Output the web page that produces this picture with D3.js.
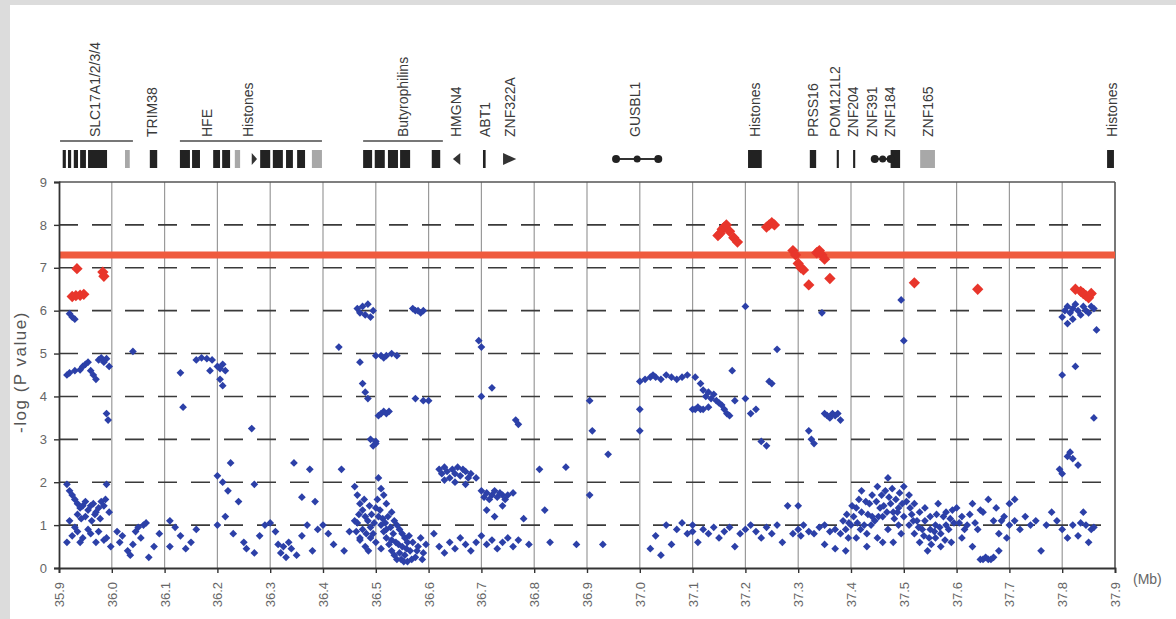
<!DOCTYPE html>
<html><head><meta charset="utf-8">
<script src="https://cdn.jsdelivr.net/npm/d3@7"></script>
<style>
body{margin:0;background:#fff;}
text{font-family:"Liberation Sans",Arial,sans-serif;}
</style></head>
<body><svg id="chart" width="1176" height="619"></svg>
<script>
// Axis ticks (position in Mb, -log10 P)
const xTicks = [35.9,36.0,36.1,36.2,36.3,36.4,36.5,36.6,36.7,36.8,36.9,37.0,37.1,37.2,37.3,37.4,37.5,37.6,37.7,37.8,37.9];
const yTicks = [0,1,2,3,4,5,6,7,8,9];
const threshold = 7.3;

// Gene annotation track
const geneNames = ["SLC17A1/2/3/4","TRIM38","HFE","Histones","Butyrophilins","HMGN4","ABT1","ZNF322A","GUSBL1","Histones","PRSS16","POM121L2","ZNF204","ZNF391","ZNF184","ZNF165","Histones"];
const genePos   = [35.968,36.076,36.180,36.258,36.551,36.652,36.707,36.754,36.991,37.218,37.328,37.370,37.404,37.440,37.474,37.546,37.894];
const geneBlocks = [
  [35.907,35.913],[35.917,35.923],[35.928,35.936],[35.940,35.951],[35.955,35.991],
  [36.072,36.086],[36.129,36.148],[36.152,36.167],[36.192,36.205],[36.209,36.224],
  [36.281,36.300],[36.305,36.324],[36.330,36.343],[36.351,36.366],
  [36.476,36.493],[36.498,36.517],[36.523,36.542],[36.546,36.565],[36.606,36.622],
  [36.703,36.708],[37.205,37.231],[37.322,37.334],[37.373,37.377],[37.404,37.408],
  [37.475,37.493],[37.885,37.898]
];
const faintBlocks = [[36.025,36.034],[36.233,36.243],[36.379,36.398],[37.531,37.559]];
const geneArrows = [[36.265,36.275,1],[36.646,36.660,-1],[36.741,36.766,1]];
const dumbbells = [[36.955,37.035],[37.445,37.475]];
const geneGroups = [[35.902,36.040],[36.129,36.398],[36.476,36.627]];

// Association results: [position (Mb), -log10 P]
const snps = [
  // 35.9 - 36.0
  [35.920,5.93],[35.925,5.85],[35.930,5.80],
  [35.915,4.50],[35.920,4.55],[35.930,4.60],[35.940,4.62],[35.945,4.70],[35.950,4.75],[35.955,4.80],[35.960,4.60],[35.965,4.50],[35.970,4.40],[35.975,4.85],[35.980,4.90],[35.985,4.80],[35.990,4.88],[35.995,4.70],[35.990,3.60],[35.993,3.45],
  [35.915,1.95],[35.920,1.80],[35.925,1.70],[35.930,1.60],[35.935,1.50],[35.940,1.40],[35.945,1.45],[35.950,1.55],[35.955,1.35],[35.960,1.45],[35.965,1.50],[35.970,1.30],[35.975,1.40],[35.980,1.55],[35.985,1.45],[35.990,1.95],[35.995,1.30],
  [35.920,1.10],[35.930,0.95],[35.925,0.75],[35.935,0.85],[35.945,0.70],[35.955,0.90],[35.960,0.80],[35.970,0.60],[35.975,0.85],[35.985,0.65],[35.990,0.70],[35.998,0.50],[35.915,0.60],
  [35.935,1.25],[35.942,1.15],[35.950,1.20],[35.962,1.10],[35.968,1.25],[35.978,1.15],[35.988,1.60],[35.940,0.60],
  // 36.0 - 36.1
  [36.040,5.05],[36.010,0.85],[36.015,0.60],[36.020,0.75],[36.030,0.40],[36.035,0.30],[36.040,0.55],[36.045,0.85],[36.050,0.95],[36.055,0.70],[36.060,1.00],[36.065,1.05],[36.070,0.25],[36.080,0.50],[36.090,0.80],
  // 36.1 - 36.2
  [36.130,4.55],[36.135,3.75],[36.160,4.85],[36.170,4.90],[36.180,4.88],[36.190,4.85],[36.186,4.60],
  [36.110,1.10],[36.120,0.95],[36.130,0.75],[36.140,0.45],[36.150,0.60],[36.110,0.50],[36.160,0.90],
  // 36.2 - 36.3
  [36.200,4.70],[36.205,4.65],[36.210,4.75],[36.215,4.60],[36.205,4.40],[36.210,4.25],
  [36.200,2.15],[36.210,2.00],[36.220,1.80],[36.225,2.45],[36.240,1.55],[36.265,3.25],[36.270,1.95],
  [36.200,1.00],[36.215,1.20],[36.230,0.80],[36.250,0.60],[36.255,0.45],[36.270,0.35],[36.280,0.75],[36.290,1.00],
  // 36.3 - 36.4
  [36.300,1.05],[36.310,0.85],[36.315,0.55],[36.320,0.35],[36.325,0.50],[36.330,0.25],[36.335,0.60],[36.340,0.45],[36.350,0.30],[36.360,0.75],[36.370,1.00],[36.345,2.45],[36.360,1.65],[36.375,2.30],[36.385,1.55],[36.390,0.90],[36.380,0.40],
  // 36.4 - 36.5
  [36.400,1.00],[36.410,0.80],[36.420,0.55],[36.430,5.15],[36.435,2.30],[36.440,0.40],[36.450,0.85],[36.460,1.10],[36.470,0.70],
  [36.465,6.05],[36.470,5.95],[36.475,6.10],[36.480,5.90],[36.485,6.15],[36.490,5.85],[36.495,6.00],[36.470,4.80],[36.475,4.30],[36.480,4.10],[36.485,3.95],[36.490,3.00],[36.495,2.85],[36.500,2.90],
  [36.460,1.90],[36.465,1.70],[36.470,1.50],[36.475,1.35],[36.480,1.20],[36.485,1.10],[36.490,0.95],[36.495,0.80],[36.470,0.65],[36.480,0.50],[36.490,0.70],[36.465,1.05],[36.475,0.90],
  [36.468,1.25],[36.478,1.60],[36.482,0.80],[36.488,1.45],[36.492,1.25],[36.497,1.05],[36.463,0.85],[36.486,0.40],
  // 36.5 - 36.6
  [36.500,4.95],[36.510,4.95],[36.515,4.90],[36.520,4.95],[36.530,5.00],[36.540,4.95],
  [36.505,3.55],[36.510,3.60],[36.515,3.65],[36.520,3.60],[36.525,3.65],
  [36.500,2.95],[36.505,2.10],[36.510,1.85],[36.515,1.70],[36.520,1.50],[36.530,1.30],[36.535,1.10],[36.540,1.00],[36.545,0.90],[36.550,0.80],[36.555,0.70],[36.560,0.60],
  [36.500,1.40],[36.505,1.20],[36.510,1.00],[36.515,0.85],[36.520,0.70],[36.525,0.55],[36.530,0.40],[36.535,0.30],[36.540,0.20],[36.545,0.35],[36.550,0.50],[36.555,0.30],[36.560,0.15],[36.565,0.40],[36.570,0.60],[36.575,0.25],[36.580,0.50],[36.585,0.70],[36.590,0.35],[36.595,0.55],[36.500,0.60],[36.510,0.45],[36.520,0.90],[36.530,0.65],
  [36.503,1.60],[36.508,1.35],[36.513,1.15],[36.518,1.05],[36.523,1.20],[36.528,0.95],[36.533,0.80],[36.538,0.60],[36.543,0.55],[36.548,0.20],[36.553,0.15],[36.558,0.45],[36.563,0.75],[36.568,0.20],[36.578,0.40],[36.588,0.20],
  [36.570,6.05],[36.575,6.00],[36.580,6.00],[36.585,5.95],[36.590,6.00],[36.575,3.95],[36.590,3.90],[36.600,3.90],
  // 36.6 - 36.7
  [36.620,0.50],[36.630,0.35],[36.640,0.60],[36.650,0.45],[36.660,0.70],[36.670,0.55],[36.680,0.40],[36.690,0.60],[36.610,0.80],
  [36.620,2.30],[36.625,2.20],[36.630,2.35],[36.635,2.25],[36.640,2.10],[36.645,2.30],[36.650,2.20],[36.655,2.35],[36.660,2.15],[36.665,2.30],[36.670,2.25],[36.675,2.10],[36.680,2.20],[36.630,2.05],[36.650,2.00],[36.670,1.95],[36.690,2.10],
  [36.695,5.30],[36.700,5.15],[36.700,4.00],[36.720,4.20],
  // 36.7 - 36.8
  [36.700,1.80],[36.705,1.65],[36.710,1.75],[36.715,1.60],[36.720,1.70],[36.725,1.80],[36.730,1.65],[36.735,1.75],[36.740,1.70],[36.745,1.60],[36.750,1.70],[36.760,1.75],[36.710,1.35],[36.725,1.20],[36.740,1.45],[36.765,3.45],[36.770,3.35],
  [36.700,0.75],[36.710,0.55],[36.720,0.65],[36.730,0.45],[36.740,0.60],[36.750,0.70],[36.760,0.50],[36.770,0.65],[36.780,1.15],[36.790,0.55],
  // 36.8 - 37.0
  [36.810,2.30],[36.820,1.35],[36.830,0.60],[36.860,2.35],[36.880,0.55],
  [36.905,3.90],[36.910,3.20],[36.905,1.70],[36.930,0.55],[36.940,2.65],
  // 37.0 - 37.1
  [37.000,4.35],[37.010,4.40],[37.020,4.45],[37.000,3.70],[37.000,3.20],[37.025,4.50],[37.030,4.45],[37.040,4.40],[37.050,4.50],[37.060,4.45],[37.070,4.40],[37.080,4.45],[37.090,4.50],
  [37.020,0.45],[37.030,0.75],[37.040,0.30],[37.050,1.00],[37.060,0.55],[37.070,0.90],[37.080,1.05],[37.090,0.80],[37.100,1.00],
  // 37.1 - 37.2
  [37.100,3.70],[37.105,3.70],[37.110,3.75],[37.115,3.70],[37.120,3.70],[37.130,3.75],[37.115,4.30],[37.120,4.15],[37.125,4.00],[37.130,4.10],[37.135,3.95],[37.140,4.05],[37.145,3.90],[37.150,3.85],[37.155,3.80],[37.160,3.70],[37.165,3.60],[37.170,3.55],[37.175,4.60],[37.180,3.90],[37.105,4.45],
  [37.100,0.85],[37.110,0.60],[37.120,0.90],[37.130,0.80],[37.140,0.95],[37.150,0.70],[37.160,0.85],[37.170,0.95],[37.180,0.50],[37.190,0.80],[37.200,0.90],
  // 37.2 - 37.3
  [37.200,6.10],[37.200,3.95],[37.210,3.60],[37.220,3.70],[37.230,2.95],[37.240,2.85],[37.245,4.35],[37.250,4.30],[37.260,5.10],
  [37.210,1.00],[37.220,0.85],[37.230,0.70],[37.240,0.95],[37.250,0.80],[37.260,1.00],[37.270,0.60],[37.280,1.45],[37.290,0.80],
  // 37.3 - 37.4
  [37.300,0.90],[37.305,0.75],[37.310,1.00],[37.320,0.85],[37.330,0.80],[37.340,0.95],[37.350,1.00],[37.360,0.85],[37.370,0.90],[37.380,0.80],[37.390,0.90],[37.300,1.45],
  [37.320,3.20],[37.325,3.00],[37.330,2.90],[37.345,5.95],[37.350,3.60],[37.355,3.55],[37.360,3.50],[37.365,3.60],[37.370,3.55],[37.375,3.60],[37.380,3.45],[37.350,0.55],[37.370,0.45],[37.390,0.40],[37.395,0.70],
  [37.385,1.10],[37.392,1.25],[37.396,1.05],
  // 37.4 - 37.5
  [37.400,1.00],[37.405,1.20],[37.410,1.40],[37.415,1.60],[37.420,1.30],[37.425,1.00],[37.430,0.80],[37.435,1.50],[37.440,1.70],[37.445,1.10],[37.450,1.90],[37.455,1.40],[37.460,1.20],[37.465,1.80],[37.470,2.10],[37.475,1.50],[37.480,1.30],[37.485,1.60],[37.490,1.00],[37.495,0.80],
  [37.410,0.70],[37.430,0.50],[37.450,0.70],[37.470,0.90],[37.480,0.60],[37.490,1.40],[37.500,1.20],[37.420,1.80],[37.440,1.20],[37.460,0.60],[37.495,6.25],[37.500,5.30],
  [37.402,1.45],[37.412,1.05],[37.418,0.90],[37.428,1.55],[37.432,1.25],[37.438,1.00],[37.448,1.55],[37.452,1.20],[37.458,1.70],[37.462,1.45],[37.468,1.30],[37.472,1.65],[37.478,1.85],[37.482,1.15],[37.488,1.30],[37.492,1.75],[37.497,1.50],
  // 37.5 - 37.6
  [37.500,1.90],[37.510,1.70],[37.520,1.50],[37.530,1.30],[37.540,1.10],[37.550,0.90],[37.560,0.70],[37.570,0.80],[37.580,1.00],[37.590,0.60],[37.510,1.00],[37.520,0.80],[37.530,0.60],[37.540,1.40],[37.550,1.20],[37.560,1.00],[37.570,0.50],[37.580,1.30],[37.515,1.25],[37.525,1.10],[37.535,0.90],[37.545,0.40],[37.565,1.50],[37.575,1.20],[37.585,0.90],[37.595,1.05],
  [37.505,1.55],[37.512,1.40],[37.518,1.10],[37.528,0.95],[37.538,0.75],[37.548,0.70],[37.552,0.55],[37.558,0.85],[37.562,1.25],[37.568,0.95],[37.578,0.65],[37.588,1.15],[37.592,1.35],
  // 37.6 - 37.7
  [37.600,1.40],[37.610,1.20],[37.620,1.00],[37.630,1.50],[37.640,0.90],[37.650,1.30],[37.660,1.60],[37.670,1.10],[37.680,0.80],[37.690,1.20],[37.700,1.50],[37.610,0.70],[37.630,0.50],
  [37.645,0.20],[37.650,0.20],[37.655,0.25],[37.660,0.20],[37.665,0.20],[37.670,0.25],[37.680,0.40],[37.695,0.70],
  [37.605,1.05],[37.615,0.90],[37.625,1.25],[37.635,1.05],[37.645,1.35],[37.675,1.40],[37.685,1.10],
  // 37.7 - 37.8
  [37.700,1.00],[37.710,1.10],[37.720,0.90],[37.730,1.20],[37.740,1.00],[37.750,1.10],[37.760,0.40],[37.770,1.00],[37.780,1.30],[37.790,1.10],[37.800,2.20],[37.795,2.30],[37.710,1.60],
  // 37.8 - 37.9
  [37.800,4.50],[37.800,5.85],[37.805,6.00],[37.810,6.10],[37.815,5.95],[37.820,6.05],[37.825,6.15],[37.830,6.00],[37.835,5.90],[37.840,6.10],[37.845,6.00],[37.850,5.95],[37.855,6.10],[37.860,6.05],[37.810,5.70],[37.820,5.80],[37.825,4.70],
  [37.810,2.60],[37.815,2.70],[37.820,2.55],[37.830,2.40],[37.840,1.30],[37.845,1.00],[37.850,0.60],[37.855,0.90],[37.860,3.50],[37.865,5.55],
  [37.800,0.90],[37.810,0.70],[37.820,1.00],[37.830,0.75],[37.835,1.05],[37.860,0.95]
];

const topSnps = [
  [35.925,6.33],[35.932,6.35],[35.940,6.36],[35.947,6.38],[35.934,6.98],[35.983,6.90],[35.985,6.80],
  [37.148,7.75],[37.152,7.80],[37.156,7.90],[37.160,7.95],[37.164,8.00],[37.170,7.85],[37.178,7.70],[37.185,7.60],
  [37.240,7.95],[37.245,8.00],[37.250,8.05],[37.255,8.00],
  [37.290,7.40],[37.295,7.30],[37.300,7.10],[37.305,7.00],[37.310,6.95],[37.320,6.60],
  [37.335,7.35],[37.340,7.40],[37.345,7.30],[37.350,7.20],[37.360,6.75],
  [37.520,6.65],[37.640,6.50],
  [37.825,6.50],[37.835,6.45],[37.840,6.40],[37.845,6.35],[37.850,6.30],[37.855,6.40]
];

const W = 1176, H = 619;
const plot = {left: 59, right: 1115, top: 182, bottom: 568};
const svg = d3.select("#chart");

// page frame
svg.append("rect").attr("width", W).attr("height", H).attr("fill", "#dcdcdc");
svg.append("rect").attr("x", 10).attr("y", 5).attr("width", W - 10).attr("height", H - 5).attr("fill", "#ffffff");

const x = d3.scaleLinear().domain([35.9, 37.9]).range([plot.left, plot.right]);
const y = d3.scaleLinear().domain([0, 9]).range([plot.bottom, plot.top]);

// vertical grid
svg.append("g").selectAll("line").data(xTicks.slice(1)).join("line")
  .attr("x1", d => x(d)).attr("x2", d => x(d))
  .attr("y1", plot.top).attr("y2", plot.bottom)
  .attr("stroke", d => d === 37.9 ? "#555" : "#9a9a9a").attr("stroke-width", d => d === 37.9 ? 1.6 : 1.2);

// horizontal grid
svg.append("g").selectAll("line").data(yTicks.filter(d => d > 0 && d < 9)).join("line")
  .attr("x1", plot.left).attr("x2", plot.right)
  .attr("y1", d => y(d)).attr("y2", d => y(d))
  .attr("stroke", "#3a3a3a").attr("stroke-width", 1.6)
  .attr("stroke-dasharray", "19,14");
svg.append("line").attr("x1", plot.left).attr("x2", plot.right)
  .attr("y1", y(9)).attr("y2", y(9)).attr("stroke", "#555").attr("stroke-width", 1.4);

// genome-wide significance line
svg.append("line").attr("x1", plot.left).attr("x2", plot.right)
  .attr("y1", y(threshold)).attr("y2", y(threshold))
  .attr("stroke", "#ef5b3e").attr("stroke-width", 7);

// axes
const yAxis = svg.append("g").attr("transform", `translate(${plot.left},0)`)
  .call(d3.axisLeft(y).tickValues(yTicks).tickSize(5).tickFormat(d3.format("d")));
const xAxis = svg.append("g").attr("transform", `translate(0,${plot.bottom})`)
  .call(d3.axisBottom(x).tickValues(xTicks).tickSize(5).tickFormat(d3.format(".1f")));
[yAxis, xAxis].forEach(g => {
  g.select(".domain").attr("stroke", "#333").attr("stroke-width", 1.8);
  g.selectAll(".tick line").attr("stroke", "#333").attr("stroke-width", 1.4);
  g.selectAll("text").attr("fill", "#666").attr("font-size", 13)
    .attr("font-family", "Liberation Sans, Arial, sans-serif");
});
yAxis.selectAll("text").attr("x", -12);
xAxis.selectAll("text")
  .attr("transform", "rotate(-90)")
  .attr("text-anchor", "end").attr("x", -14).attr("y", 0).attr("dy", "0.35em");

svg.append("text").attr("x", 1133).attr("y", 584).attr("fill", "#666")
  .attr("font-size", 14).text("(Mb)");

svg.append("text")
  .attr("transform", `translate(26,${(plot.top + plot.bottom) / 2 - 3}) rotate(-90)`)
  .attr("text-anchor", "middle").attr("fill", "#555").attr("font-size", 17)
  .attr("letter-spacing", 1.5)
  .text("-log (P value)");

// markers
const blueShape = d3.symbol(d3.symbolSquare, 30);
svg.append("g").selectAll("path").data(snps).join("path")
  .attr("d", blueShape)
  .attr("transform", d => `translate(${x(d[0])},${y(d[1])}) rotate(45)`)
  .attr("fill", "#2c40a8");
const redShape = d3.symbol(d3.symbolSquare, 64);
svg.append("g").selectAll("path").data(topSnps).join("path")
  .attr("d", redShape)
  .attr("transform", d => `translate(${x(d[0])},${y(d[1])}) rotate(45)`)
  .attr("fill", "#e8352b");

// gene track
const track = svg.append("g");
const blockTop = 150, blockH = 18;
track.selectAll("line.group").data(geneGroups).join("line")
  .attr("x1", d => x(d[0])).attr("x2", d => x(d[1]))
  .attr("y1", 141).attr("y2", 141).attr("stroke", "#777").attr("stroke-width", 2);
track.selectAll("rect.exon").data(geneBlocks).join("rect")
  .attr("x", d => x(d[0])).attr("width", d => x(d[1]) - x(d[0]))
  .attr("y", blockTop).attr("height", blockH).attr("fill", "#222");
track.selectAll("rect.faint").data(faintBlocks).join("rect")
  .attr("x", d => x(d[0])).attr("width", d => x(d[1]) - x(d[0]))
  .attr("y", blockTop).attr("height", blockH).attr("fill", "#a8a8a8");
track.selectAll("path.arrow").data(geneArrows).join("path")
  .attr("d", d => {
    const a = x(d[0]), b = x(d[1]), m = blockTop + blockH / 2;
    return d[2] > 0 ? `M${a},${m - 6}L${b},${m}L${a},${m + 6}Z` : `M${b},${m - 6}L${a},${m}L${b},${m + 6}Z`;
  }).attr("fill", "#333");
const db = track.selectAll("g.db").data(dumbbells).join("g");
db.append("line").attr("x1", d => x(d[0])).attr("x2", d => x(d[1]))
  .attr("y1", blockTop + blockH / 2).attr("y2", blockTop + blockH / 2).attr("stroke", "#333").attr("stroke-width", 2);
db.append("circle").attr("cx", d => x(d[0])).attr("cy", blockTop + blockH / 2).attr("r", 4).attr("fill", "#222");
db.append("circle").attr("cx", d => (x(d[0]) + x(d[1])) / 2).attr("cy", blockTop + blockH / 2).attr("r", 3.5).attr("fill", "#222");
db.append("circle").attr("cx", d => x(d[1])).attr("cy", blockTop + blockH / 2).attr("r", 4).attr("fill", "#222");

track.selectAll("text.gene").data(geneNames).join("text")
  .attr("transform", (d, i) => `translate(${x(genePos[i]) + 5},137) rotate(-90)`)
  .attr("font-size", 14).attr("fill", "#3a3a3a").text(d => d);
</script>
</body></html>
